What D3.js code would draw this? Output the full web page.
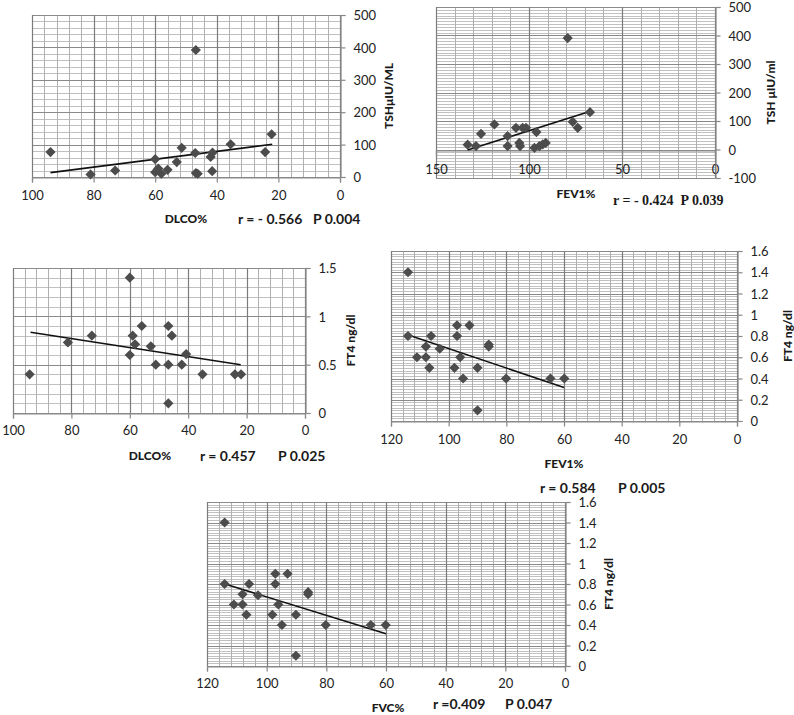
<!DOCTYPE html>
<html>
<head>
<meta charset="utf-8">
<script src="https://cdn.jsdelivr.net/npm/d3@7"></script>
<style>
  html, body { margin: 0; padding: 0; background: #fff; }
  svg { display: block; }
  .tick text { font-family: Lato, "Open Sans", sans-serif; font-size: 13px; fill: #222; }
  .ttl { font-family: Lato, "Open Sans", sans-serif; font-weight: 900; font-size: 12px; fill: #1a1a1a; }
  .stat { font-family: Lato, "Open Sans", sans-serif; font-weight: bold; font-size: 14px; fill: #1a1a1a; }
  .stat-serif { font-family: "Liberation Serif", "DejaVu Serif", serif; font-weight: bold; font-size: 14px; fill: #1a1a1a; }
</style>
</head>
<body>
<svg id="chart" width="794" height="715"></svg>
<script>
// ---------- DATA ----------
// Panel 1: DLCO% vs TSH µIU/mL
const p1DLCO = [94, 81, 73, 60, 60, 59, 58, 56, 53, 51.4, 46.8, 47, 46.8, 46.2, 42, 41.4, 41.5, 35.5, 24.3, 22.2];
const p1TSH  = [77, 8, 20, 55, 15, 26, 10, 22, 46, 90, 392, 74, 12, 10, 62, 75, 18, 101, 77, 132];
const p1Trend = [[94, 13.5], [22, 101]];
const p1Stats = ["r = - 0.566", "P 0.004"];

// Panel 2: FEV1% vs TSH µIU/ml
const p2FEV1 = [133, 128.5, 125.8, 118.6, 111.5, 111.5, 107, 105.2, 104.8, 103.4, 101.6, 96, 97.1, 94.4, 92.6, 91, 79.2, 76.5, 73.8, 67.2];
const p2TSH  = [17, 12, 55, 88, 47, 12, 76, 23, 12, 76, 76, 61, 6, 12, 18, 23, 391, 97, 76, 131];
const p2Trend = [[133, -2], [67, 134]];
const p2Stats = ["r = - 0.424  P 0.039"];

// Panel 3: DLCO% vs FT4 ng/dl
const p3DLCO = [94.3, 81.2, 73, 60, 60, 59, 58.2, 55.9, 52.8, 51.1, 46.8, 46.8, 46.8, 45.6, 42.2, 40.7, 35.1, 24, 21.9];
const p3FT4  = [0.4, 0.73, 0.8, 1.4, 0.6, 0.8, 0.71, 0.9, 0.69, 0.5, 0.9, 0.5, 0.1, 0.8, 0.5, 0.61, 0.4, 0.4, 0.4];
const p3Trend = [[94, 0.835], [22, 0.5]];
const p3Stats = ["r = 0.457", "P 0.025"];

// Panel 4: FEV1% vs FT4 ng/dl
const p4FEV1 = [114.1, 114.1, 111, 107.9, 107.9, 106.7, 106.1, 103.1, 98, 97.1, 97.1, 96, 95, 92.8, 90, 90, 86.1, 86.1, 80.1, 64.7, 59.9];
const p4FT4  = [1.4, 0.8, 0.6, 0.6, 0.7, 0.5, 0.8, 0.68, 0.5, 0.9, 0.8, 0.6, 0.4, 0.9, 0.5, 0.1, 0.72, 0.7, 0.4, 0.4, 0.4];
const p4Trend = [[114, 0.81], [60, 0.316]];
const p4Stats = ["r = 0.584", "P 0.005"];

// Panel 5: FVC% vs FT4 ng/dl
const p5FVC = [114.1, 114.1, 111, 108.1, 108.1, 106.8, 105.9, 102.9, 98.1, 97.1, 97.1, 96.1, 94.9, 93, 90.2, 90.2, 86.1, 86.1, 80.2, 65.1, 60.1];
const p5FT4 = [1.4, 0.8, 0.6, 0.6, 0.7, 0.5, 0.8, 0.69, 0.5, 0.9, 0.8, 0.6, 0.4, 0.9, 0.5, 0.1, 0.72, 0.7, 0.4, 0.4, 0.4];
const p5Trend = [[114, 0.8], [60, 0.315]];
const p5Stats = ["r =0.409", "P 0.047"];

// Tick values
const ticksX100 = [100, 80, 60, 40, 20, 0];
const ticksX150 = [150, 100, 50, 0];
const ticksX120 = [120, 100, 80, 60, 40, 20, 0];
const ticksTSH1 = [0, 100, 200, 300, 400, 500];
const ticksTSH2 = [-100, 0, 100, 200, 300, 400, 500];
const ticksFT4a = [0, 0.5, 1, 1.5];
const ticksFT4b = [0, 0.2, 0.4, 0.6, 0.8, 1, 1.2, 1.4, 1.6];

// ---------- DRAW ----------
const svg = d3.select("#chart");

function range(a, b, step) {
  const out = [];
  const n = Math.round((b - a) / step);
  for (let i = 0; i <= n; i++) out.push(+(a + i * step).toFixed(6));
  return out;
}

function panel(cfg) {
  const g = svg.append("g");
  const x = d3.scaleLinear().domain(cfg.xDomain).range([cfg.left, cfg.right]);
  const y = d3.scaleLinear().domain(cfg.yDomain).range([cfg.bottom, cfg.top]);
  const [x0, x1] = [Math.min(...cfg.xDomain), Math.max(...cfg.xDomain)];
  const [y0, y1] = cfg.yDomain;

  const isMajor = (v, m) => Math.abs(v / m - Math.round(v / m)) < 1e-6;
  const vx = range(x0, x1, cfg.xMinor);
  const hy = range(y0, y1, cfg.yMinor);
  // minor grid
  g.append("g").selectAll("line").data(hy.filter(v => !isMajor(v, cfg.yMajor))).join("line")
    .attr("x1", cfg.left).attr("x2", cfg.right)
    .attr("y1", d => Math.round(y(d)) + 0.5).attr("y2", d => Math.round(y(d)) + 0.5)
    .attr("stroke", "#c0c0c0").attr("stroke-width", 1);
  g.append("g").selectAll("line").data(vx.filter(v => !isMajor(v, cfg.xMajor))).join("line")
    .attr("y1", cfg.top).attr("y2", cfg.bottom)
    .attr("x1", d => Math.round(x(d)) + 0.5).attr("x2", d => Math.round(x(d)) + 0.5)
    .attr("stroke", "#b0b0b0").attr("stroke-width", 1);
  // major grid
  g.append("g").selectAll("line").data(hy.filter(v => isMajor(v, cfg.yMajor))).join("line")
    .attr("x1", cfg.left).attr("x2", cfg.right)
    .attr("y1", d => Math.round(y(d)) + 0.5).attr("y2", d => Math.round(y(d)) + 0.5)
    .attr("stroke", "#8a8a8a").attr("stroke-width", 1.2);
  g.append("g").selectAll("line").data(vx.filter(v => isMajor(v, cfg.xMajor))).join("line")
    .attr("y1", cfg.top).attr("y2", cfg.bottom)
    .attr("x1", d => Math.round(x(d)) + 0.5).attr("x2", d => Math.round(x(d)) + 0.5)
    .attr("stroke", "#7c7c7c").attr("stroke-width", 1.2);

  // axes
  const xAxisY = Math.round(y(cfg.xAxisAt)) + 0.5;
  const xa = g.append("g").attr("transform", `translate(0,${xAxisY})`)
    .call(d3.axisBottom(x).tickValues(cfg.xTicks).tickSize(5).tickPadding(cfg.xPad).tickFormat(d => String(d)));
  const ya = g.append("g").attr("transform", `translate(${Math.round(x(0)) + 0.5},0)`)
    .call(d3.axisRight(y).tickValues(cfg.yTicks).tickSize(5).tickPadding(8).tickFormat(d => String(+d.toFixed(2))));
  [xa, ya].forEach(a => {
    a.select(".domain").attr("stroke", "#888").attr("stroke-width", 1.2);
    a.selectAll(".tick line").attr("stroke", "#888").attr("stroke-width", 1.2);
  });
  ya.selectAll(".tick text").attr("dy", "0.36em");

  // trendline
  g.append("line")
    .attr("x1", x(cfg.trend[0][0])).attr("y1", y(cfg.trend[0][1]))
    .attr("x2", x(cfg.trend[1][0])).attr("y2", y(cfg.trend[1][1]))
    .attr("stroke", "#111").attr("stroke-width", 1.6);

  // points (diamonds)
  const sym = d3.symbol(d3.symbolSquare, 52);
  g.append("g").selectAll("path").data(cfg.xs.map((v, i) => [v, cfg.ys[i]])).join("path")
    .attr("d", sym)
    .attr("transform", d => `translate(${x(d[0])},${y(d[1])}) rotate(45)`)
    .attr("fill", "#4c4c4c");

  // y-axis title
  g.append("text").attr("class", "ttl")
    .attr("transform", `translate(${cfg.yTitleX},${(cfg.top + cfg.bottom) / 2}) rotate(-90)`)
    .attr("text-anchor", "middle").attr("dominant-baseline", "central")
    .text(cfg.yTitle);

  // x title
  g.append("text").attr("class", "ttl")
    .attr("x", cfg.xTitle[1]).attr("y", cfg.xTitle[2])
    .attr("text-anchor", "middle").attr("dominant-baseline", "central")
    .text(cfg.xTitle[0]);

  // stats
  cfg.stats.forEach((s, i) => {
    g.append("text").attr("class", cfg.statClass || "stat")
      .attr("x", cfg.statPos[i][0]).attr("y", cfg.statPos[i][1])
      .attr("dominant-baseline", "central")
      .attr("xml:space", "preserve")
      .text(s);
  });
}

panel({
  left: 32, right: 340, top: 15, bottom: 177,
  xDomain: [100, 0], yDomain: [0, 500], xAxisAt: 0, xPad: 8,
  xMajor: 20, xMinor: 4, yMajor: 100, yMinor: 20,
  xTicks: ticksX100, yTicks: ticksTSH1,
  xs: p1DLCO, ys: p1TSH, trend: p1Trend,
  yTitle: "TSHμIU/ML", yTitleX: 388,
  xTitle: ["DLCO%", 186, 218],
  stats: p1Stats, statPos: [[238, 218], [313, 218]]
});

panel({
  left: 436, right: 715, top: 7, bottom: 178,
  xDomain: [150, 0], yDomain: [-100, 500], xAxisAt: 0, xPad: 9,
  xMajor: 50, xMinor: 10, yMajor: 100, yMinor: 10,
  xTicks: ticksX150, yTicks: ticksTSH2,
  xs: p2FEV1, ys: p2TSH, trend: p2Trend,
  yTitle: "TSH μIU/ml", yTitleX: 770,
  xTitle: ["FEV1%", 576, 193],
  stats: p2Stats, statPos: [[613, 200]], statClass: "stat-serif"
});

panel({
  left: 13, right: 305, top: 268, bottom: 413,
  xDomain: [100, 0], yDomain: [0, 1.5], xAxisAt: 0, xPad: 7,
  xMajor: 20, xMinor: 4, yMajor: 0.5, yMinor: 0.1,
  xTicks: ticksX100, yTicks: ticksFT4a,
  xs: p3DLCO, ys: p3FT4, trend: p3Trend,
  yTitle: "FT4 ng/dl", yTitleX: 350,
  xTitle: ["DLCO%", 150, 455],
  stats: p3Stats, statPos: [[200, 455], [278, 455]]
});

panel({
  left: 391, right: 737, top: 251, bottom: 421,
  xDomain: [120, 0], yDomain: [0, 1.6], xAxisAt: 0, xPad: 8,
  xMajor: 20, xMinor: 4, yMajor: 0.2, yMinor: 0.025,
  xTicks: ticksX120, yTicks: ticksFT4b,
  xs: p4FEV1, ys: p4FT4, trend: p4Trend,
  yTitle: "FT4 ng/dl", yTitleX: 787,
  xTitle: ["FEV1%", 564, 463],
  stats: p4Stats, statPos: [[540, 487], [618, 487]]
});

panel({
  left: 207, right: 565, top: 502, bottom: 666,
  xDomain: [120, 0], yDomain: [0, 1.6], xAxisAt: 0, xPad: 7,
  xMajor: 20, xMinor: 4, yMajor: 0.2, yMinor: 0.025,
  xTicks: ticksX120, yTicks: ticksFT4b,
  xs: p5FVC, ys: p5FT4, trend: p5Trend,
  yTitle: "FT4 ng/dl", yTitleX: 608,
  xTitle: ["FVC%", 388, 707],
  stats: p5Stats, statPos: [[433, 703], [505, 703]]
});
</script>
</body>
</html>
